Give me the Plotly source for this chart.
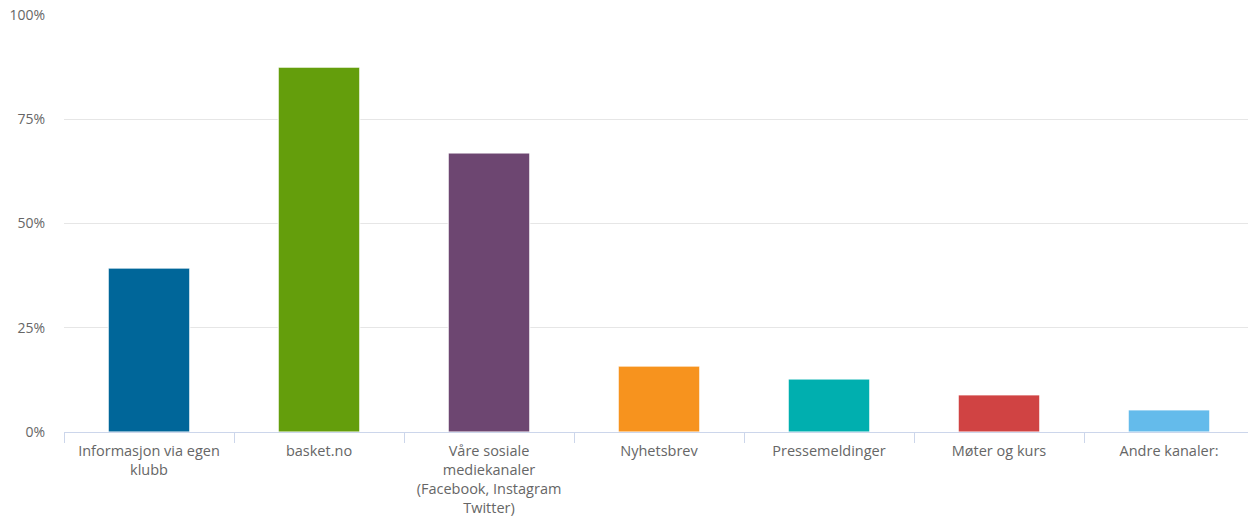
import plotly.graph_objects as go

categories = [
    "Informasjon via egen<br>klubb",
    "basket.no",
    "Våre sosiale<br>mediekanaler<br>(Facebook, Instagram<br>Twitter)",
    "Nyhetsbrev",
    "Pressemeldinger",
    "Møter og kurs",
    "Andre kanaler:",
]
values = [39.3, 87.5, 66.9, 15.8, 12.7, 8.9, 5.3]
colors = ["#006699", "#649e0c", "#6d4671", "#f7931e", "#00afaf", "#d04343", "#64bbeb"]
y_ticks = [0, 25, 50, 75, 100]

fig = go.Figure(
    go.Bar(
        x=categories,
        y=values,
        marker=dict(color=colors, line=dict(color="#ffffff", width=1)),
        width=0.48,
        hoverinfo="x+y",
    )
)

fig.update_layout(
    width=1254,
    height=517,
    margin=dict(l=64, r=0, t=15, b=85, autoexpand=False),
    plot_bgcolor="#ffffff",
    paper_bgcolor="#ffffff",
    font=dict(family="Open Sans", size=14.5, color="#666666"),
    showlegend=False,
)

fig.update_xaxes(
    automargin=False,
    showline=True,
    linecolor="#ccd6eb",
    linewidth=1,
    ticks="outside",
    tickson="boundaries",
    ticklen=10,
    tickcolor="#ccd6eb",
    showgrid=False,
    tickfont=dict(size=14.5, color="#666666"),
    tickangle=0,
    ticklabelstandoff=6,
)

fig.update_yaxes(
    automargin=False,
    range=[0, 100],
    tickvals=y_ticks,
    ticktext=[f"{v}%" for v in y_ticks],
    showgrid=True,
    gridcolor="#e6e6e6",
    gridwidth=1,
    zeroline=False,
    showline=False,
    ticks="",
    ticklabelstandoff=18,
    tickfont=dict(size=14, color="#666666"),
)

fig.write_html(
    "out.html",
    config={"displayModeBar": False},
    post_script="document.body.style.margin='0';document.body.style.overflow='hidden';",
)
